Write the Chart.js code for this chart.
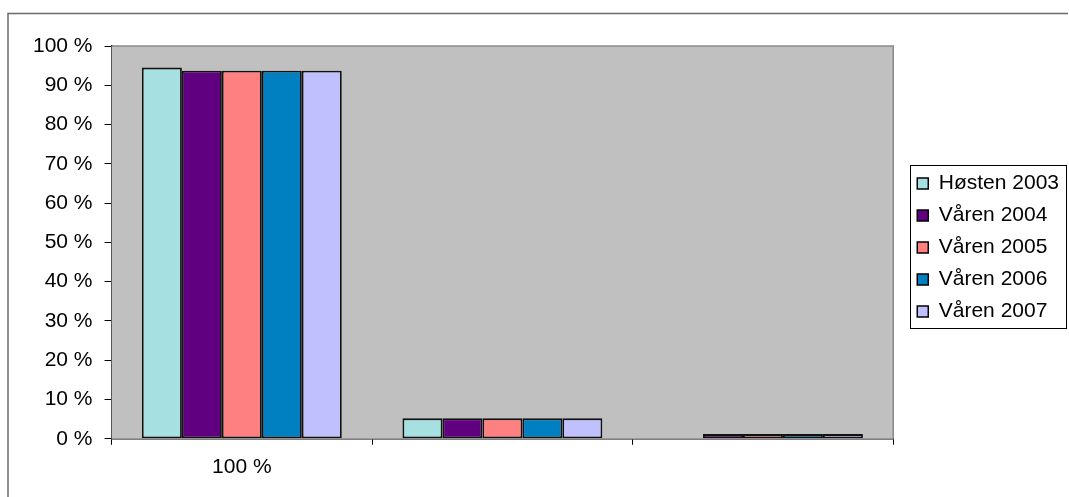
<!DOCTYPE html>
<html>
<head>
<meta charset="utf-8">
<script src="https://cdn.jsdelivr.net/npm/chart.js@4/dist/chart.umd.min.js"></script>
<style>
  html, body { margin: 0; padding: 0; background: #fff; }
  #wrap { width: 1069px; height: 497px; }
</style>
</head>
<body>
<div id="wrap"><canvas id="c" width="1069" height="497"></canvas></div>
<script>

// categories (only the first one carries a label in the source)
const categories = ['100 %', '', ''];

// series, one per survey
const seriesNames = ['Høsten 2003', 'Våren 2004', 'Våren 2005', 'Våren 2006', 'Våren 2007'];
const host2003 = [94.5, 5.2, null];
const var2004  = [93.7, 5.2, 1.2];
const var2005  = [93.7, 5.2, 1.2];
const var2006  = [93.7, 5.2, 1.2];
const var2007  = [93.7, 5.2, 1.2];
const seriesColors = ['#A6E0E0', '#600080', '#FF8080', '#0080C0', '#C0C0FF'];

// y axis: 0 % .. 100 %, step 10
const yMin = 0, yMax = 100, yStep = 10;

const allSeries = [host2003, var2004, var2005, var2006, var2007];

const FONT = 'Liberation Sans, Arial, sans-serif';

//frame + gray plot background + legend box
const decor = {
      id: 'decor',
      beforeDraw(chart){
            const ctx = chart.ctx
            ctx.save()
            ctx.strokeStyle = '#6a6a6a'
            ctx.lineWidth = 1.5
            ctx.beginPath()
            ctx.moveTo(8, 497); ctx.lineTo(8, 13.5); ctx.lineTo(1068, 13.5)
            ctx.stroke()
            ctx.restore()
      },
      beforeDatasetsDraw(chart){
            const {ctx, chartArea: a} = chart
            ctx.save()
            ctx.fillStyle = '#C0C0C0'
            ctx.fillRect(a.left, a.top, a.right - a.left, a.bottom - a.top)
            ctx.strokeStyle = '#8a8a8a'
            ctx.lineWidth = 1.5
            ctx.beginPath()
            ctx.moveTo(a.left, a.top); ctx.lineTo(a.right, a.top); ctx.lineTo(a.right, a.bottom)
            ctx.stroke()
            ctx.restore()
      },
      afterDraw(chart){
            const lg = chart.legend
            if(!lg || !lg.legendHitBoxes.length) return
            const hb = lg.legendHitBoxes
            const left  = Math.min(...hb.map(h => h.left)) - 7
            const right = Math.max(...hb.map(h => h.left + h.width)) + 7
            const top   = hb[0].top - 8
            const bot   = hb[hb.length-1].top + hb[hb.length-1].height + 6
            const ctx = chart.ctx
            ctx.save()
            ctx.strokeStyle = '#000'
            ctx.lineWidth = 1
            ctx.strokeRect(Math.round(left)+0.5, Math.round(top)+0.5, Math.round(right-left), Math.round(bot-top))
            ctx.restore()
      }
}

const setup = {
      type: 'bar',
      data: {
            labels: categories,
            datasets: seriesNames.map((name, i) => ({
                  label: name,
                  data: allSeries[i],
                  backgroundColor: seriesColors[i],
                  borderColor: '#111',
                  borderWidth: 1.8,
                  borderSkipped: false,
                  categoryPercentage: 0.767,
                  barPercentage: 1.0,
            }))
      },
      options: {
            responsive: false,
            animation: false,
            layout: { padding: { left: 21, top: 46, right: 0, bottom: 7 } },
            plugins: {
                  legend: {
                        display: true,
                        position: 'right',
                        align: 'start',
                        fullSize: false,
                        title: { display: true, text: ' ', font: { size: 10 }, padding: { top: 104, bottom: 0 } },
                        labels: {
                              boxWidth: 11,
                              boxHeight: 11,
                              padding: 11,
                              color: '#000',
                              font: { family: FONT, size: 21 },
                              generateLabels: (chart) => chart.data.datasets.map((ds, i) => ({
                                    text: ds.label,
                                    fillStyle: ds.backgroundColor,
                                    strokeStyle: '#000',
                                    fontColor: '#000',
                                    lineWidth: 1.5,
                                    datasetIndex: i,
                                    hidden: false,
                              })),
                        }
                  },
                  tooltip: { enabled: false },
                  title: { display: false },
            },
            scales: {
                  x: {
                        grid: { display: true, drawOnChartArea: false, drawTicks: true, tickLength: 6, color: '#000', offset: true },
                        border: { display: true, color: '#000', width: 1.5 },
                        ticks: { color: '#000', font: { family: FONT, size: 21 }, padding: 10 },
                  },
                  y: {
                        min: yMin, max: yMax,
                        grid: { display: true, drawOnChartArea: false, drawTicks: true, tickLength: 7, color: '#000' },
                        border: { display: true, color: '#000', width: 1.5 },
                        ticks: {
                              stepSize: yStep,
                              color: '#000',
                              padding: 12,
                              font: { family: FONT, size: 21 },
                              callback: (v) => v + ' %'
                        }
                  },
                  //empty gap between plot and legend
                  gap: {
                        position: 'right',
                        display: true,
                        grid: { display: false },
                        border: { display: false },
                        ticks: { display: false },
                        afterFit: (scale) => { scale.width = 13 }
                  }
            }
      },
      plugins: [decor]
}

new Chart(document.getElementById('c'), setup)

</script>
</body>
</html>
